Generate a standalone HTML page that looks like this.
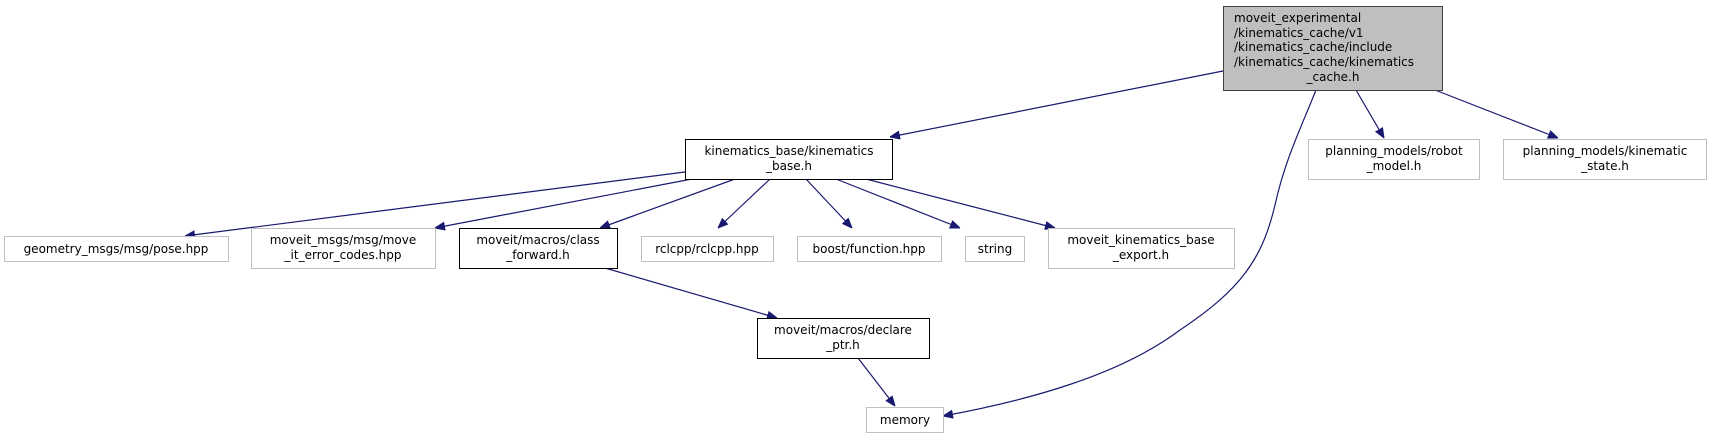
<!DOCTYPE html>
<html><head><meta charset="utf-8"><style>
html,body{margin:0;padding:0;background:#fff;}
svg{display:block;}
text{font-family:"DejaVu Sans","Liberation Sans",sans-serif;font-size:12px;fill:#000;}
</style></head><body>
<svg width="1711" height="439" viewBox="0 0 1711 439" xmlns="http://www.w3.org/2000/svg">
<defs>
<marker id="a" viewBox="0 0 10 10" refX="10" refY="5" markerWidth="10" markerHeight="10" markerUnits="userSpaceOnUse" orient="auto">
<path d="M0,1 L10,5 L0,9 z" fill="#191970" stroke="#191970"/>
</marker>
</defs>
<g fill="none" stroke="#191970" stroke-width="1.2" marker-end="url(#a)">
<path d="M1223,71 L890,137"/>
<path d="M1316,90 C1300,130 1285,160 1275,205 C1262,260 1240,290 1180,330 C1120,375 1030,400 943,416"/>
<path d="M1356,90 L1384,138"/>
<path d="M1435,90 L1558,138"/>
<path d="M685,172 L185,236"/>
<path d="M692,179 L435,228"/>
<path d="M735,179 L600,228"/>
<path d="M770,179 L718,228"/>
<path d="M806,179 L852,228"/>
<path d="M836,179 L960,228"/>
<path d="M866,179 L1055,228"/>
<path d="M605,268 L777,318"/>
<path d="M858,358 L895,406"/>
</g>
<g stroke-width="1">
<rect x="1223.5" y="6.5" width="219" height="84" fill="#bfbfbf" stroke="#404040"/>
<rect x="685.5" y="139.5" width="207" height="40" fill="#fff" stroke="#000"/>
<rect x="1308.5" y="139.5" width="171" height="40" fill="#fff" stroke="#bfbfbf"/>
<rect x="1503.5" y="139.5" width="203" height="40" fill="#fff" stroke="#bfbfbf"/>
<rect x="4.5" y="236.5" width="224" height="25" fill="#fff" stroke="#bfbfbf"/>
<rect x="251.5" y="228.5" width="184" height="40" fill="#fff" stroke="#bfbfbf"/>
<rect x="459.5" y="228.5" width="158" height="40" fill="#fff" stroke="#000"/>
<rect x="641.5" y="236.5" width="132" height="25" fill="#fff" stroke="#bfbfbf"/>
<rect x="797.5" y="236.5" width="144" height="25" fill="#fff" stroke="#bfbfbf"/>
<rect x="965.5" y="236.5" width="59" height="25" fill="#fff" stroke="#bfbfbf"/>
<rect x="1048.5" y="228.5" width="186" height="40" fill="#fff" stroke="#bfbfbf"/>
<rect x="757.5" y="318.5" width="172" height="40" fill="#fff" stroke="#000"/>
<rect x="866.5" y="407.5" width="77" height="25" fill="#fff" stroke="#bfbfbf"/>
</g>
<g>
<text x="1234" y="22">moveit_experimental</text>
<text x="1234" y="37">/kinematics_cache/v1</text>
<text x="1234" y="51">/kinematics_cache/include</text>
<text x="1234" y="66">/kinematics_cache/kinematics</text>
<text x="1333" y="81" text-anchor="middle">_cache.h</text>
</g>
<g text-anchor="middle">
<text x="789" y="155">kinematics_base/kinematics</text>
<text x="789" y="170">_base.h</text>
<text x="1394" y="155">planning_models/robot</text>
<text x="1394" y="170">_model.h</text>
<text x="1605" y="155">planning_models/kinematic</text>
<text x="1605" y="170">_state.h</text>
<text x="116" y="253">geometry_msgs/msg/pose.hpp</text>
<text x="343" y="244">moveit_msgs/msg/move</text>
<text x="343" y="259">_it_error_codes.hpp</text>
<text x="538" y="244">moveit/macros/class</text>
<text x="538" y="259">_forward.h</text>
<text x="707" y="253">rclcpp/rclcpp.hpp</text>
<text x="869" y="253">boost/function.hpp</text>
<text x="995" y="253">string</text>
<text x="1141" y="244">moveit_kinematics_base</text>
<text x="1141" y="259">_export.h</text>
<text x="843" y="334">moveit/macros/declare</text>
<text x="843" y="349">_ptr.h</text>
<text x="905" y="424">memory</text>
</g>
</svg>
</body></html>
